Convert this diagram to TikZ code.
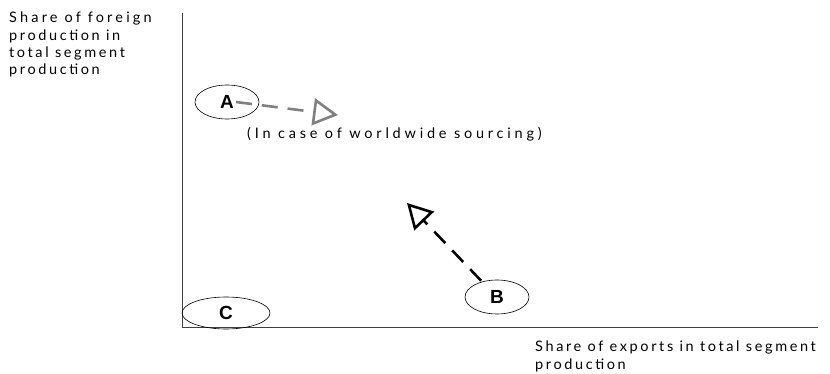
\documentclass[tikz,border=0pt]{standalone}
\usepackage{fontspec}
\setmainfont{Lato}[LetterSpace=18]
\newfontfamily\lettfont{Liberation Sans}
\usetikzlibrary{arrows.meta,shapes.geometric}
\begin{document}
\begin{tikzpicture}[x=1pt,y=-1pt,
  axis/.style={draw=black!75,line width=0.9pt},
  spot/.style={draw,ellipse,line width=0.6pt,inner sep=0pt,font=\lettfont\bfseries\fontsize{19}{19}\selectfont},
  lbl/.style={font=\fontsize{14.5}{17.3}\selectfont,align=left,inner sep=0pt},
  move/.style={dashed,dash pattern=on 16pt off 10pt,line width=2.6pt,
    -{Triangle[open,length=25pt,width=27pt,line width=2.6pt]}}]
\useasboundingbox (0,0) rectangle (830,374);
% axes
\coordinate (o) at (182,327);
\coordinate (ytop) at (182,13);
\coordinate (xend) at (818,327);
\draw[axis] (ytop) -- (o) -- (xend);
% axis titles
\node[lbl,anchor=north west] (ylab) at (9,12) {\addfontfeature{LetterSpace=22}Share of foreign\\production in\\total segment\\production};
\node[lbl,anchor=north west] (xlab) at (535,341) {Share of exports in total segment\\production};
% positions
\node[spot,minimum width=64pt,minimum height=34pt] (A) at (227,102) {A};
\node[spot,minimum width=64pt,minimum height=34pt] (B) at (497,297) {B};
\node[spot,minimum width=88pt,minimum height=32pt] (C) at (226,313) {C};
% movements
\coordinate (aend) at (338,115);
\coordinate (bend) at (407,203);
\draw[move,draw=black!50] (A.center) ++(9,0) coordinate (astart) (astart) -- (aend);
\draw[move,draw=black] (B.north west) ++(7,-4) coordinate (bstart) (bstart) -- (bend);
\node[lbl,anchor=west] (note) at (247,134) {\addfontfeature{LetterSpace=26}(In case of worldwide sourcing)};
\end{tikzpicture}
\end{document}
